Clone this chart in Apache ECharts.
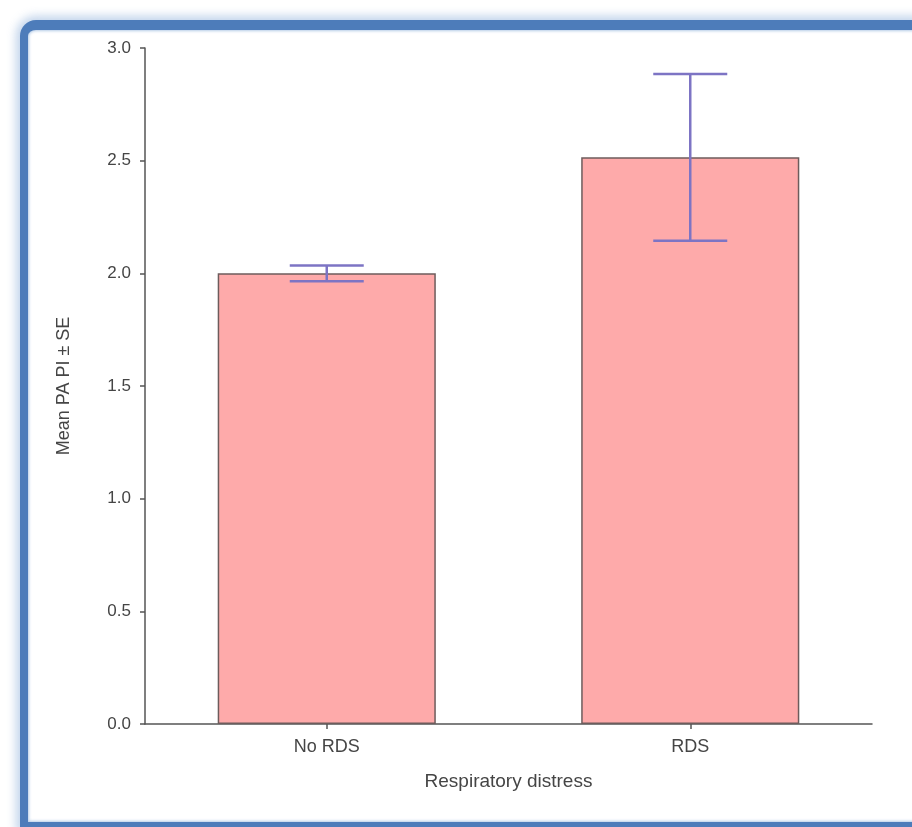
<!DOCTYPE html>
<html>
<head>
<meta charset="utf-8">
<script src="https://cdn.jsdelivr.net/npm/echarts@6/dist/echarts.min.js"></script>
<style>
  html, body { margin: 0; padding: 0; background: #ffffff; overflow: hidden; }
  #frame {
    position: absolute; left: 20px; top: 20px; width: 960px; height: 792px;
    border-left: 8px solid #4d7cba; border-top: 10px solid #4d7cba; border-bottom: 7px solid #4d7cba;
    border-radius: 16px 0 0 0;
    box-shadow: 0 0 10px 4px rgba(120,160,210,0.45), inset 0 0 3px 1px rgba(160,190,225,0.8);
    background: #ffffff;
  }
  #chart { position: absolute; left: 0; top: 0; width: 912px; height: 827px; }
</style>
</head>
<body>
<div id="frame"></div>
<div id="chart"></div>
<script>
const categories = ['No RDS', 'RDS'];
const means = [2.00, 2.515];
const se = [0.035, 0.37];
const yTicks = [0.0, 0.5, 1.0, 1.5, 2.0, 2.5, 3.0];

const chart = echarts.init(document.getElementById('chart'), null, { renderer: 'canvas' });
const textColor = '#454545';
const fontFamily = 'Liberation Sans, Arial, sans-serif';

const errData = categories.map((c, i) => [i, means[i] - se[i], means[i] + se[i]]);

chart.setOption({
  backgroundColor: 'transparent',
  animation: false,
  grid: { left: 145, top: 48, right: 40, bottom: 103, containLabel: false },
  xAxis: {
    type: 'category',
    data: categories,
    name: 'Respiratory distress',
    nameLocation: 'middle',
    nameGap: 48,
    nameTextStyle: { color: textColor, fontSize: 19, fontFamily },
    axisLine: { show: true, lineStyle: { color: '#555555', width: 1.5 } },
    axisTick: { show: true, alignWithLabel: true, length: 5, lineStyle: { color: '#555555', width: 1.5 } },
    axisLabel: { color: textColor, fontSize: 18, fontFamily, margin: 14 },
    splitLine: { show: false }
  },
  yAxis: {
    type: 'value',
    min: 0, max: 3.0, interval: 0.5,
    name: 'Mean PA PI \u00B1 SE',
    nameLocation: 'middle',
    nameGap: 72,
    nameRotate: 90,
    nameTextStyle: { color: textColor, fontSize: 18, fontFamily },
    axisLine: { show: true, lineStyle: { color: '#555555', width: 1.5 } },
    axisTick: { show: true, length: 5, lineStyle: { color: '#555555', width: 1.5 } },
    axisLabel: { color: textColor, fontSize: 17, fontFamily, margin: 14,
      formatter: v => yTicks.includes(v) ? v.toFixed(1) : '' },
    splitLine: { show: false }
  },
  series: [
    {
      type: 'bar',
      data: means,
      barWidth: '60%',
      itemStyle: { color: '#feaaaa', borderColor: '#6d5c5c', borderWidth: 1.5 }
    },
    {
      type: 'custom',
      data: errData,
      z: 10,
      renderItem: function (params, api) {
        const x = api.value(0);
        const lo = api.coord([x, api.value(1)]);
        const hi = api.coord([x, api.value(2)]);
        const half = 37;
        const style = { stroke: '#7d74c4', lineWidth: 2.5 };
        return {
          type: 'group',
          children: [
            { type: 'line', shape: { x1: hi[0], y1: hi[1], x2: lo[0], y2: lo[1] }, style },
            { type: 'line', shape: { x1: hi[0] - half, y1: hi[1], x2: hi[0] + half, y2: hi[1] }, style },
            { type: 'line', shape: { x1: lo[0] - half, y1: lo[1], x2: lo[0] + half, y2: lo[1] }, style }
          ]
        };
      }
    }
  ]
});
</script>
</body>
</html>
